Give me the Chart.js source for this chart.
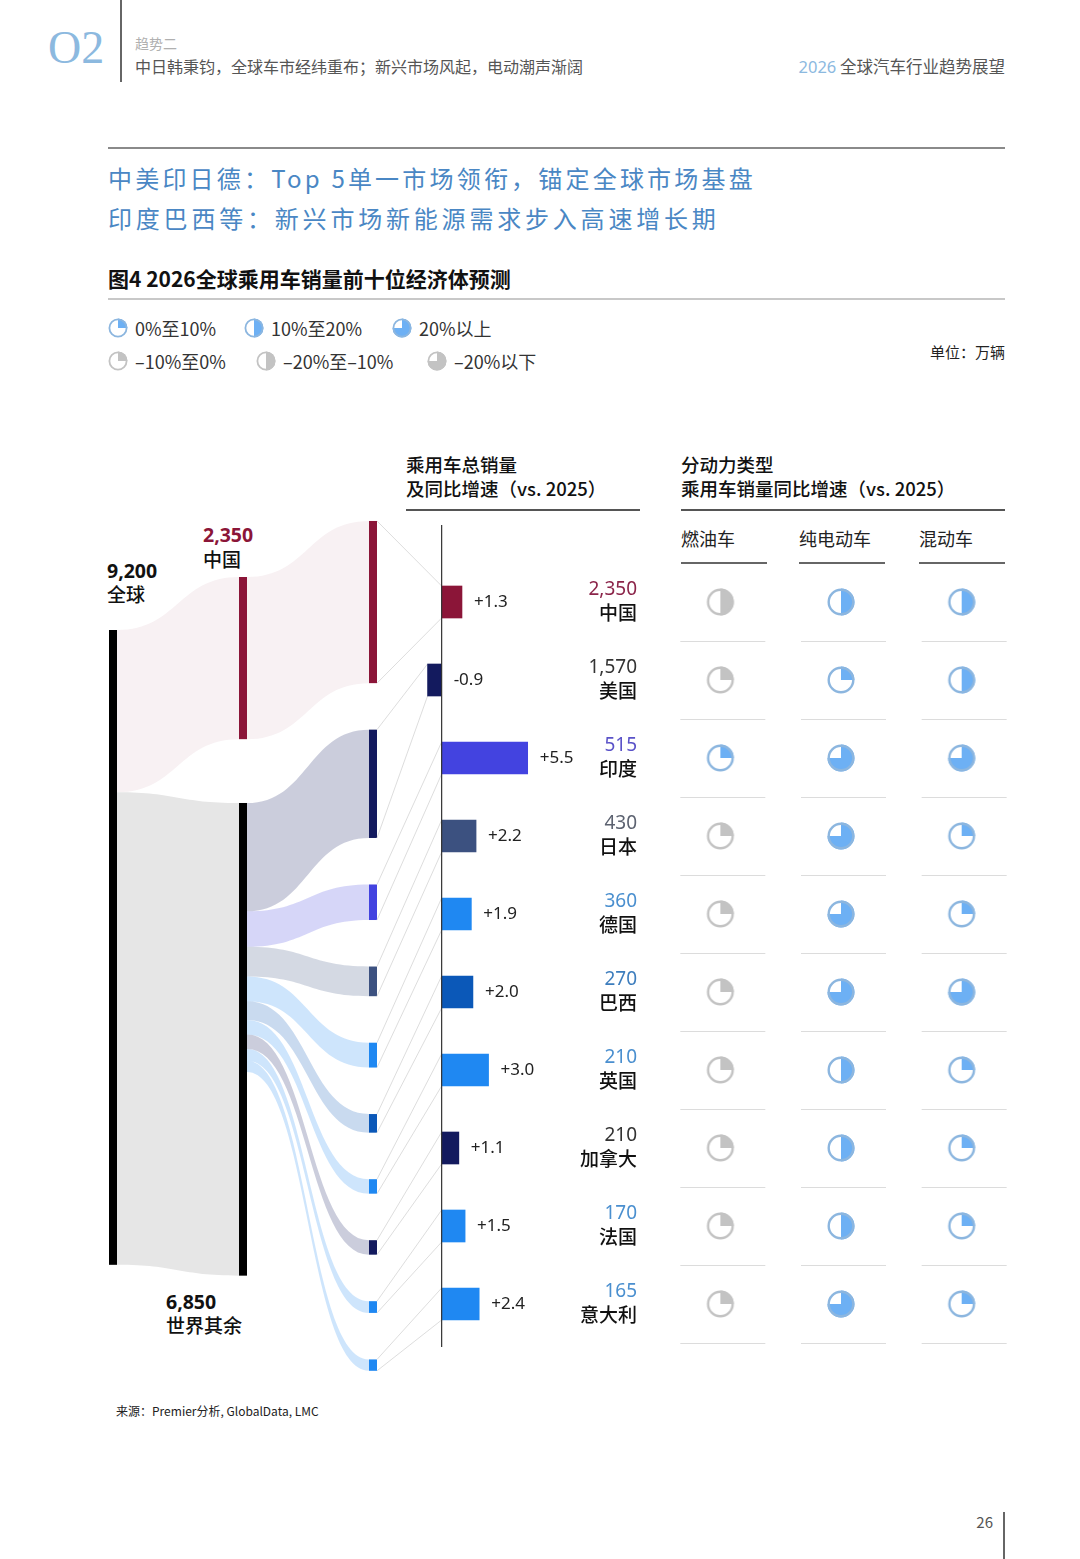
<!DOCTYPE html>
<html lang="zh">
<head>
<meta charset="utf-8">
<title>2026全球乘用车销量前十位经济体预测</title>
<script src="https://cdn.jsdelivr.net/npm/chart.js@4.4.1/dist/chart.umd.min.js"></script>
<style>
  html, body { margin: 0; padding: 0; background: #fff; }
  body { width: 1080px; height: 1559px; position: relative; overflow: hidden;
         font-family: "Noto Sans CJK SC", "Noto Sans", sans-serif; color: #222; }
  .t { position: absolute; white-space: nowrap; }
  .r { position: absolute; }
  canvas { position: absolute; }
  .num { font-family: "Noto Sans", "Noto Sans CJK SC", sans-serif; font-weight: 700; }
</style>
</head>
<body>

<!-- page header -->
<div class="t" style="left:48px;top:22px;font:46px/52px 'Liberation Serif',serif;color:#8cb9df;">O2</div>
<div class="r" style="left:120px;top:0;width:1.5px;height:82px;background:#666;"></div>
<div class="t" style="left:135px;top:33px;font-size:14px;line-height:20px;color:#b0b0b0;">趋势二</div>
<div class="t" style="left:135px;top:56px;font-size:16px;line-height:20px;color:#555;">中日韩秉钧，全球车市经纬重布；新兴市场风起，电动潮声渐阔</div>
<div class="t" style="right:75px;top:56px;font-size:16.5px;line-height:20px;color:#555;"><span style="color:#8cb9df;font-family:'Noto Sans',sans-serif;">2026</span> 全球汽车行业趋势展望</div>

<div class="r" style="left:108px;top:147px;width:897px;height:2px;background:#8a8a8a;"></div>
<div class="t" style="left:108px;top:163px;font-size:24px;line-height:30px;letter-spacing:3.2px;color:#4a87c4;">中美印日德：Top 5单一市场领衔，锚定全球市场基盘</div>
<div class="t" style="left:108px;top:203px;font-size:24px;line-height:30px;letter-spacing:3.8px;color:#4a87c4;">印度巴西等：新兴市场新能源需求步入高速增长期</div>

<div class="t" style="left:108px;top:265px;font-size:21px;line-height:26px;font-weight:700;color:#111;">图4 2026全球乘用车销量前十位经济体预测</div>
<div class="r" style="left:108px;top:298px;width:897px;height:1.5px;background:#c8c8c8;"></div>

<!-- legend -->
<div id="legend"></div>
<div class="t" style="right:75px;top:342px;font-size:15px;line-height:20px;color:#222;">单位：万辆</div>

<!-- column headers -->
<div class="t" style="left:406px;top:452px;font-size:18.5px;line-height:24px;font-weight:500;color:#111;">乘用车总销量</div>
<div class="t" style="left:406px;top:476px;font-size:18.5px;line-height:24px;font-weight:500;color:#111;">及同比增速（vs. 2025）</div>
<div class="r" style="left:406px;top:509px;width:234px;height:2px;background:#555;"></div>
<div class="t" style="left:681px;top:452px;font-size:18.5px;line-height:24px;font-weight:500;color:#111;">分动力类型</div>
<div class="t" style="left:681px;top:476px;font-size:18.5px;line-height:24px;font-weight:500;color:#111;">乘用车销量同比增速（vs. 2025）</div>
<div class="r" style="left:681px;top:509px;width:324px;height:2px;background:#555;"></div>
<div id="ptHeads"></div>

<!-- sankey labels -->
<div class="t num" style="left:107px;top:559px;font-size:19.5px;line-height:24px;color:#111;">9,200</div>
<div class="t" style="left:107px;top:582px;font-size:19px;line-height:24px;font-weight:500;color:#111;">全球</div>
<div class="t num" style="left:203px;top:523px;font-size:19.5px;line-height:24px;color:#8b1538;">2,350</div>
<div class="t" style="left:203px;top:547px;font-size:19px;line-height:24px;font-weight:500;color:#111;">中国</div>
<div class="t num" style="left:166px;top:1290px;font-size:19.5px;line-height:24px;color:#111;">6,850</div>
<div class="t" style="left:166px;top:1313px;font-size:19px;line-height:24px;font-weight:500;color:#111;">世界其余</div>

<canvas id="flowChart" width="571" height="900" style="left:90px;top:500px;"></canvas>
<canvas id="mixChart" width="362" height="900" style="left:660px;top:500px;"></canvas>

<div class="t" style="left:116px;top:1402px;font-size:12px;line-height:18px;color:#222;">来源：Premier分析, GlobalData, LMC</div>
<div class="t" style="right:87px;top:1511px;font-size:15px;line-height:22px;color:#555;">26</div>
<div class="r" style="left:1003px;top:1512px;width:1.5px;height:47px;background:#666;"></div>

<script>
// ---- data ----
const countries = ['中国', '美国', '印度', '日本', '德国', '巴西', '英国', '加拿大', '法国', '意大利'];
const sales2026 = [2350, 1570, 515, 430, 360, 270, 210, 210, 170, 165];   // 万辆
const growth = [1.3, -0.9, 5.5, 2.2, 1.9, 2.0, 3.0, 1.1, 1.5, 2.4];
const worldTotal = 9200;
const powertrains = ['燃油车', '纯电动车', '混动车'];
const bandLabels = ['0%至10%', '10%至20%', '20%以上', '–10%至0%', '–20%至–10%', '–20%以下'];
const iceBand = ['–20%至–10%', '–10%至0%', '0%至10%', '–10%至0%', '–10%至0%', '–10%至0%', '–10%至0%', '–10%至0%', '–10%至0%', '–10%至0%'];
const bevBand = ['10%至20%', '0%至10%', '20%以上', '20%以上', '20%以上', '20%以上', '10%至20%', '10%至20%', '10%至20%', '20%以上'];
const hevBand = ['10%至20%', '10%至20%', '20%以上', '0%至10%', '0%至10%', '20%以上', '0%至10%', '0%至10%', '0%至10%', '0%至10%'];

// ---- styles ----
const nodeColors = ['#8b1538', '#131a5e', '#4343e0', '#3c5180', '#1f88f2', '#0b58b8', '#1f88f2', '#131a5e', '#1f88f2', '#1f88f2'];
const numColors = ['#8b2449', '#333333', '#5a52c8', '#5c6270', '#4a8fcf', '#3d7dbd', '#4a8fcf', '#333333', '#4a8fcf', '#4a8fcf'];
const BLUE = { fill: '#6db0f4', ring: '#8cb6df' };
const GREY = { fill: '#c3c3c3', ring: '#c3c3c3' };
const bandStyle = {
  '0%至10%': { frac: 0.25, ...BLUE },
  '10%至20%': { frac: 0.5, ...BLUE },
  '20%以上': { frac: 0.75, ...BLUE },
  '–10%至0%': { frac: 0.25, ...GREY },
  '–20%至–10%': { frac: 0.5, ...GREY },
  '–20%以下': { frac: 0.75, ...GREY }
};

function rgba(hex, a) {
  const n = parseInt(hex.slice(1), 16);
  return 'rgba(' + (n >> 16) + ',' + ((n >> 8) & 255) + ',' + (n & 255) + ',' + a + ')';
}

function makeIcon(size, r, lw, band) {
  const c = document.createElement('canvas');
  c.width = size; c.height = size;
  const g = c.getContext('2d');
  const s = bandStyle[band], m = size / 2;
  g.beginPath();
  g.moveTo(m, m);
  g.arc(m, m, r, -Math.PI / 2, -Math.PI / 2 + s.frac * Math.PI * 2);
  g.closePath();
  g.fillStyle = s.fill;
  g.fill();
  g.beginPath();
  g.arc(m, m, r - lw / 2, 0, Math.PI * 2);
  g.lineWidth = lw;
  g.strokeStyle = s.ring;
  g.stroke();
  return c;
}

// legend
const legendPos = [[118, 328], [254, 328], [402, 328], [118, 361], [266, 361], [437, 361]];
const legendBox = document.getElementById('legend');
bandLabels.forEach((b, i) => {
  const [cx, cy] = legendPos[i];
  const ic = makeIcon(20, 9.5, 1.8, b);
  ic.style.left = (cx - 10) + 'px';
  ic.style.top = (cy - 10) + 'px';
  legendBox.appendChild(ic);
  const t = document.createElement('div');
  t.className = 't';
  t.style.cssText = 'left:' + (cx + 17) + 'px;top:' + (cy - 12) + 'px;font-size:18px;line-height:24px;color:#333;';
  t.textContent = b;
  legendBox.appendChild(t);
});

// powertrain sub headers
const headLeft = [681, 799, 919];
const heads = document.getElementById('ptHeads');
powertrains.forEach((p, i) => {
  const t = document.createElement('div');
  t.className = 't';
  t.style.cssText = 'left:' + headLeft[i] + 'px;top:526px;font-size:18px;line-height:24px;color:#222;';
  t.textContent = p;
  heads.appendChild(t);
  const l = document.createElement('div');
  l.className = 'r';
  l.style.cssText = 'left:' + headLeft[i] + 'px;top:562px;width:86px;height:1.5px;background:#666;';
  heads.appendChild(l);
});

function ribbon(ctx, x0, a0, b0, x1, a1, b1, color) {
  const xm = (x0 + x1) / 2;
  ctx.beginPath();
  ctx.moveTo(x0, a0);
  ctx.bezierCurveTo(xm, a0, xm, a1, x1, a1);
  ctx.lineTo(x1, b1);
  ctx.bezierCurveTo(xm, b1, xm, b0, x0, b0);
  ctx.closePath();
  ctx.fillStyle = color;
  ctx.fill();
}

// sankey drawn on the hidden "ys" scale (万辆), bars drawn by chart.js
const sankeyPlugin = {
  id: 'sankey',
  beforeDatasetsDraw(chart) {
    const ctx = chart.ctx, ys = chart.scales.ys;
    const Y = v => ys.getPixelForValue(v);
    const colX = [19, 149, 279], nodeW = 8;
    const rest = worldTotal - sales2026[0];
    const gTop = 971, midTop = 203, midGap = 925, rightTop = -609, rightGap = 674;
    const chinaFlow = 'rgba(139,21,56,0.06)';

    const glob = [gTop, gTop + worldTotal];
    const midChina = [midTop, midTop + sales2026[0]];
    const midRest = [midChina[1] + midGap, midChina[1] + midGap + rest];
    const right = [];
    let p = rightTop;
    sales2026.forEach(v => { right.push([p, p + v]); p += v + rightGap; });

    ctx.save();
    ribbon(ctx, colX[0] + nodeW, Y(glob[0]), Y(glob[0] + sales2026[0]), colX[1], Y(midChina[0]), Y(midChina[1]), chinaFlow);
    ribbon(ctx, colX[0] + nodeW, Y(glob[0] + sales2026[0]), Y(glob[1]), colX[1], Y(midRest[0]), Y(midRest[1]), '#e6e6e6');
    ribbon(ctx, colX[1] + nodeW, Y(midChina[0]), Y(midChina[1]), colX[2], Y(right[0][0]), Y(right[0][1]), chinaFlow);
    let q = midRest[0];
    for (let i = 1; i < sales2026.length; i++) {
      ribbon(ctx, colX[1] + nodeW, Y(q), Y(q + sales2026[i]), colX[2], Y(right[i][0]), Y(right[i][1]), rgba(nodeColors[i], 0.22));
      q += sales2026[i];
    }

    // nodes
    const node = (x, r, c) => { ctx.fillStyle = c; ctx.fillRect(x, Y(r[0]), nodeW, Y(r[1]) - Y(r[0])); };
    node(colX[0], glob, '#000');
    node(colX[1], midChina, nodeColors[0]);
    node(colX[1], midRest, '#000');
    right.forEach((r, i) => node(colX[2], r, nodeColors[i]));

    // connectors to bars
    const bars = chart.getDatasetMeta(0).data;
    ctx.strokeStyle = '#d4d4d4';
    ctx.lineWidth = 0.8;
    bars.forEach((b, i) => {
      const bx = Math.min(b.x, b.base);
      ctx.beginPath();
      ctx.moveTo(colX[2] + nodeW, Y(right[i][0]));
      ctx.lineTo(bx, b.y - b.height / 2);
      ctx.moveTo(colX[2] + nodeW, Y(right[i][1]));
      ctx.lineTo(bx, b.y + b.height / 2);
      ctx.stroke();
    });
    ctx.restore();
  },
  afterDatasetsDraw(chart) {
    const ctx = chart.ctx, xs = chart.scales.x, area = chart.chartArea;
    const zero = xs.getPixelForValue(0);
    ctx.save();
    ctx.strokeStyle = '#333';
    ctx.lineWidth = 1.2;
    ctx.beginPath();
    ctx.moveTo(zero, area.top - 38);
    ctx.lineTo(zero, area.bottom + 4);
    ctx.stroke();

    const bars = chart.getDatasetMeta(0).data;
    ctx.textBaseline = 'middle';
    bars.forEach((b, i) => {
      const v = growth[i];
      ctx.fillStyle = '#222';
      ctx.textAlign = 'left';
      ctx.font = '17px "Noto Sans"';
      ctx.fillText((v > 0 ? '+' : '') + v.toFixed(1), Math.max(b.x, zero) + 12, b.y);
      ctx.textAlign = 'right';
      ctx.font = '19px "Noto Sans"';
      ctx.fillStyle = numColors[i];
      ctx.fillText(sales2026[i].toLocaleString('en-US'), area.right - 8, b.y - 12);
      ctx.font = '500 19px "Noto Sans CJK SC"';
      ctx.fillStyle = '#111';
      ctx.fillText(countries[i], area.right - 8, b.y + 11);
    });
    ctx.restore();
  }
};

new Chart(document.getElementById('flowChart'), {
  type: 'bar',
  data: {
    labels: countries,
    datasets: [{
      data: growth,
      backgroundColor: nodeColors,
      barThickness: 32,
      borderWidth: 0
    }]
  },
  options: {
    indexAxis: 'y',
    responsive: false,
    animation: false,
    layout: { autoPadding: false, padding: { top: 63, bottom: 57, left: 336, right: 16 } },
    plugins: { legend: { display: false }, tooltip: { enabled: false } },
    scales: {
      x: { type: 'linear', min: -1, max: 13, display: false },
      y: { type: 'category', display: false },
      ys: { type: 'linear', axis: 'y', display: false, offset: false, grace: 0, bounds: 'data', min: 0, max: 11304, reverse: true }
    }
  },
  plugins: [sankeyPlugin]
});

// powertrain growth icons
const icons = {};
bandLabels.forEach(b => { icons[b] = makeIcon(30, 13.5, 2.4, b); });

const gridPlugin = {
  id: 'grid',
  beforeDatasetsDraw(chart) {
    const ctx = chart.ctx, xs = chart.scales.x, yv = chart.scales.y;
    ctx.save();
    ctx.strokeStyle = '#dcdcdc';
    ctx.lineWidth = 1;
    for (let c = 0; c < powertrains.length; c++) {
      const cx = xs.getPixelForValue(c);
      for (let i = 0; i < countries.length; i++) {
        const y = Math.round(yv.getPixelForValue(i + 0.5)) + 0.5;
        ctx.beginPath();
        ctx.moveTo(cx - 40, y);
        ctx.lineTo(cx + 45, y);
        ctx.stroke();
      }
    }
    ctx.restore();
  }
};

const bandSets = [iceBand, bevBand, hevBand];
new Chart(document.getElementById('mixChart'), {
  type: 'scatter',
  data: {
    datasets: bandSets.map((bands, c) => ({
      label: powertrains[c],
      data: bands.map((b, i) => ({ x: c, y: i, band: b })),
      pointStyle: ctx => icons[ctx.raw.band],
      pointRadius: 13
    }))
  },
  options: {
    responsive: false,
    animation: false,
    layout: { autoPadding: false, padding: { top: 63, bottom: 57, left: 0, right: 0 } },
    plugins: { legend: { display: false }, tooltip: { enabled: false } },
    scales: {
      x: { type: 'linear', min: -0.5, max: 2.5, display: false },
      y: { type: 'linear', min: -0.5, max: 9.5, reverse: true, display: false }
    }
  },
  plugins: [gridPlugin]
});
</script>
</body>
</html>
